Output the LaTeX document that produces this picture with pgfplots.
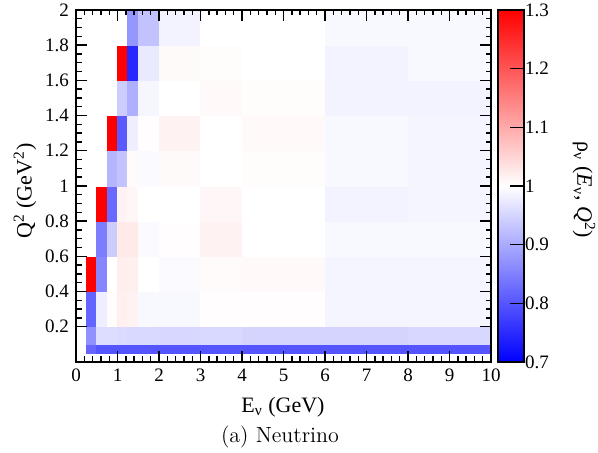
\documentclass[border=0pt]{standalone}
\usepackage{pgfplots}
\pgfplotsset{compat=1.18}
\usepackage{fontspec}
\newfontfamily\tms{Liberation Serif}
\begin{document}
\begin{tikzpicture}
\path[use as bounding box] (0,0) rectangle (299pt,226.5pt);
\begin{axis}[
  at={(38pt,45.5pt)}, anchor=south west,
  scale only axis, width=207.5pt, height=176pt,
  xmin=0, xmax=10, ymin=0, ymax=2,
  xtick={0,1,2,3,4,5,6,7,8,9,10},
  ytick={0.2,0.4,0.6,0.8,1,1.2,1.4,1.6,1.8,2},
  yticklabels={0.2,0.4,0.6,0.8,1,1.2,1.4,1.6,1.8,2},
  minor x tick num=4, minor y tick num=3,
  tick align=inside, xtick pos=both, ytick pos=both,
  xticklabel pos=left, yticklabel pos=left,
  major tick length=5.5pt, minor tick length=2.75pt,
  axis line style={line width=0.9pt},
  every tick/.style={black, line width=0.7pt},
  colormap={bwr}{rgb255=(0,0,255) rgb255=(255,255,255) rgb255=(255,0,0)},
  point meta min=0.7, point meta max=1.3,
  axis on top,
  /pgf/number format/assume math mode=true,
  tick label style={font=\tms\fontsize{9.5}{11}\selectfont},
  colorbar,
  colorbar style={
    at={(parent axis.north east)}, anchor=north west, xshift=-5pt,
    scale only axis, width=13pt, height=176pt,
    ytick={0.7,0.8,0.9,1,1.1,1.2,1.3},
    yticklabels={0.7,0.8,0.9,1,1.1,1.2,1.3},
    ytick pos=right, yticklabel pos=right, ytick align=inside,
    major tick length=7pt,
    axis line style={line width=0.9pt},
    every tick/.style={black, line width=0.7pt},
    /pgf/number format/assume math mode=true,
    tick label style={font=\tms\fontsize{9.5}{11}\selectfont},
    yticklabel style={xshift=-3pt},
  },
]
\addplot[surf, shader=flat corner, mesh/cols=12, mesh/ordering=x varies, point meta=explicit]
table[x=x, y=y, meta=c] {
x y c
0.25 0.05 0.82
0.5 0.05 0.80
0.75 0.05 0.80
1 0.05 0.80
1.25 0.05 0.80
1.5 0.05 0.80
2 0.05 0.80
3 0.05 0.80
4 0.05 0.80
6 0.05 0.80
8 0.05 0.80
10 0.05 1
0.25 0.1 0.87
0.5 0.1 0.96
0.75 0.1 0.96
1 0.1 0.958
1.25 0.1 0.955
1.5 0.1 0.955
2 0.1 0.953
3 0.1 0.955
4 0.1 0.95
6 0.1 0.95
8 0.1 0.953
10 0.1 1
0.25 0.2 0.818
0.5 0.2 0.98
0.75 0.2 1.004
1 0.2 1.018
1.25 0.2 1.015
1.5 0.2 0.992
2 0.2 0.992
3 0.2 1.003
4 0.2 1.003
6 0.2 0.988
8 0.2 0.988
10 0.2 1
0.25 0.4 1.3
0.5 0.4 0.858
0.75 0.4 1.0
1 0.4 1.02
1.25 0.4 1.018
1.5 0.4 1.0
2 0.4 0.995
3 0.4 1.005
4 0.4 1.007
6 0.4 0.988
8 0.4 0.988
10 0.4 1
0.25 0.6 1
0.5 0.6 0.847
0.75 0.6 0.94
1 0.6 1.025
1.25 0.6 1.025
1.5 0.6 0.995
2 0.6 1.003
3 0.6 1.015
4 0.6 1.0
6 0.6 0.992
8 0.6 0.992
10 0.6 1
0.25 0.8 1
0.5 0.8 1.3
0.75 0.8 0.824
1 0.8 1.015
1.25 0.8 1.01
1.5 0.8 1.0
2 0.8 1.0
3 0.8 1.01
4 0.8 1.0
6 0.8 0.986
8 0.8 0.988
10 0.8 1
0.25 1.0 1
0.5 1.0 1
0.75 1.0 0.912
1 1.0 0.93
1.25 1.0 1.005
1.5 1.0 0.995
2 1.0 1.006
3 1.0 1.0
4 1.0 1.004
6 1.0 0.992
8 1.0 0.988
10 1.0 1
0.25 1.2 1
0.5 1.2 1
0.75 1.2 1.3
1 1.2 0.806
1.25 1.2 0.98
1.5 1.2 1.002
2 1.2 1.015
3 1.2 1.0
4 1.2 1.007
6 1.2 0.992
8 1.2 0.988
10 1.2 1
0.25 1.4 1
0.5 1.4 1
0.75 1.4 1
1 1.4 0.94
1.25 1.4 0.906
1.5 1.4 0.99
2 1.4 1.0
3 1.4 1.007
4 1.4 1.004
6 1.4 0.986
8 1.4 0.986
10 1.4 1
0.25 1.6 1
0.5 1.6 1
0.75 1.6 1
1 1.6 1.3
1.25 1.6 0.747
1.5 1.6 0.976
2 1.6 1.006
3 1.6 1.004
4 1.6 1.0
6 1.6 0.986
8 1.6 0.992
10 1.6 1
0.25 1.8 1
0.5 1.8 1
0.75 1.8 1
1 1.8 1
1.25 1.8 0.876
1.5 1.8 0.928
2 1.8 0.986
3 1.8 1.0
4 1.8 1.0
6 1.8 0.992
8 1.8 0.992
10 1.8 1
0.25 2.0 1
0.5 2.0 1
0.75 2.0 1
1 2.0 1
1.25 2.0 1
1.5 2.0 1
2 2.0 1
3 2.0 1
4 2.0 1
6 2.0 1
8 2.0 1
10 2.0 1
};
\end{axis}
\node[font=\tms\fontsize{11}{13}\selectfont] at (141.5pt,23pt) {E\textsubscript{ν} (GeV)};
\node[font=\tms\fontsize{11}{13}\selectfont, rotate=90] at (12.5pt,131pt) {Q\textsuperscript{2} (GeV\textsuperscript{2})};
\node[font=\tms\fontsize{11}{13}\selectfont, rotate=-90] at (292pt,131.5pt) {ρ\textsubscript{ν} (\textit{E}\textsubscript{ν}, \textit{Q}\textsuperscript{2})};
\node[font=\fontsize{11}{13}\selectfont] at (140pt,8pt) {(a) Neutrino};
\end{tikzpicture}
\end{document}
